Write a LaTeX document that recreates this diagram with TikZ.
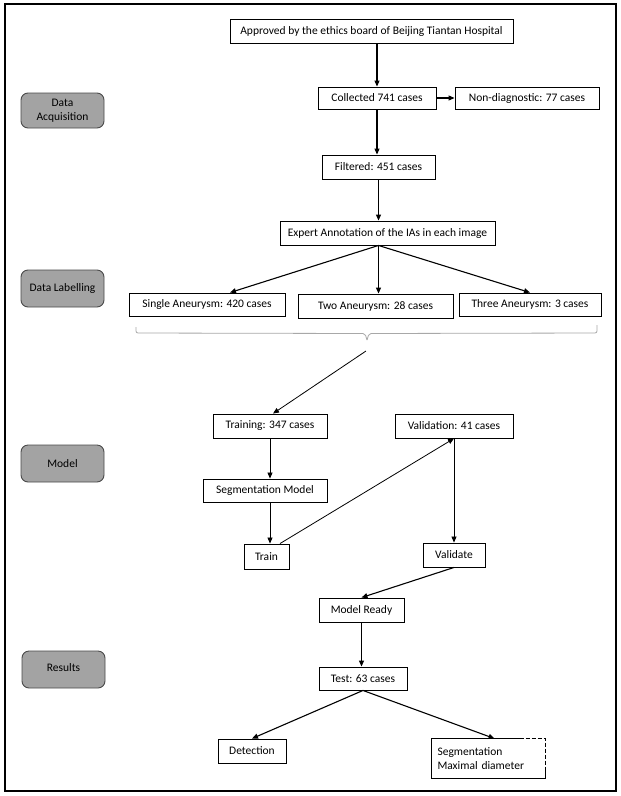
\documentclass[tikz,border=0pt]{standalone}
\usepackage{fontspec}
\setmainfont{Carlito}
\usetikzlibrary{arrows.meta,calc}
\definecolor{gfill}{HTML}{A3A3A3}
\definecolor{gedge}{HTML}{4A4A4A}
\definecolor{bracec}{HTML}{A8A8A8}
\begin{document}
\begin{tikzpicture}[x=1pt,y=-1pt,
  box/.style={draw=black,line width=0.9pt,fill=white,inner sep=0pt,
    font=\fontsize{11.5}{13.5}\selectfont},
  gbox/.style={draw=gedge,line width=0.9pt,fill=gfill,rounded corners=7pt,
    inner sep=0pt,minimum width=83pt,minimum height=37pt,align=center,
    font=\fontsize{11.5}{13.5}\selectfont},
  arr/.style={line width=1.1pt,-{Triangle[length=6pt,width=5pt]}},
  thinarr/.style={line width=0.8pt,-{Triangle[length=6pt,width=5pt]}}]
\useasboundingbox (0,0) rectangle (621,796);
\fill[white] (0,0) rectangle (621,796);
\draw[line width=1.1pt] (5,4) rectangle (616,791);

% side labels
\node[gbox,minimum height=35pt] (acq) at (62.5,110.5) {Data\\Acquisition};
\node[gbox] (lab) at (62.5,288.5) {Data Labelling};
\node[gbox] (mod) at (62.5,463.5) {Model};
\node[gbox] (res) at (63.5,669.5) {\raisebox{5pt}{Results}};

% flow boxes
\node[box,minimum width=283pt,minimum height=24pt] (appr) at (371.5,31) {Approved by the ethics board of Beijing Tiantan Hospital};
\node[box,minimum width=118pt,minimum height=22pt] (coll) at (377,98) {Collected 741 cases};
\node[box,minimum width=144pt,minimum height=22pt] (nond) at (527,98) {Non-diagnostic: 77 cases};
\node[box,minimum width=113pt,minimum height=24pt] (filt) at (378.5,167) {Filtered: 451 cases};
\node[box,minimum width=215pt,minimum height=24pt] (expt) at (387.5,233) {Expert Annotation of the IAs in each image};
\node[box,minimum width=156pt,minimum height=23pt] (sing) at (207,304.5) {Single Aneurysm: 420 cases};
\node[box,minimum width=155pt,minimum height=24pt] (two) at (375.5,306) {Two Aneurysm: 28 cases};
\node[box,minimum width=142pt,minimum height=23pt] (three) at (530,304.5) {Three Aneurysm: 3 cases};
\node[box,minimum width=114pt,minimum height=24pt] (trn) at (270,426) {Training: 347 cases};
\node[box,minimum width=118pt,minimum height=24pt] (val) at (454,426) {Validation: 41 cases};
\node[box,minimum width=124pt,minimum height=23pt] (seg) at (265,490.5) {Segmentation Model};
\node[box,minimum width=45pt,minimum height=25pt] (train) at (266.5,556.5) {Train};
\node[box,minimum width=62pt,minimum height=24pt] (valid) at (454,555) {Validate};
\node[box,minimum width=85pt,minimum height=24pt] (ready) at (361.5,610) {Model Ready};
\node[box,minimum width=88pt,minimum height=23pt] (test) at (363,678.5) {Test: 63 cases};
\node[box,minimum width=68pt,minimum height=24pt] (det) at (252,751) {Detection};
\node[box,draw=none,minimum width=113pt,minimum height=39pt,align=left,text width=102pt] (segmax) at (488.5,758.5) {Segmentation\\Maximal diameter};
\draw[line width=0.9pt] ($(segmax.north west)+(88,0)$) -- (segmax.north west) -- (segmax.south west) -- (segmax.south east) -- ($(segmax.north east)+(0,31)$);
\draw[line width=0.9pt,dash pattern=on 4pt off 2pt] ($(segmax.north west)+(88,0)$) -- (segmax.north east) -- ($(segmax.north east)+(0,31)$);

% connectors
\draw[arr] (coll |- appr.south) -- (coll.north);
\draw[arr] (coll.east) -- (nond.west);
\draw[arr] (coll.south) -- (coll.south |- filt.north);
\draw[arr] (filt.south) -- (filt.south |- expt.north);
\coordinate (eo) at (filt.south |- expt.south);
\draw[arr] (eo) -- ($(sing.north)+(23,0)$);
\draw[arr] (eo) -- (eo |- two.north);
\draw[arr] (eo) -- (three.north);

% brace
\coordinate (bl) at (136,327);
\coordinate (bm) at (367,340);
\coordinate (br) at (597,325);
\draw[bracec,line width=0.8pt,rounded corners=2pt] (bl) -- (136,333) -- (365,333.5) -- (bm);
\draw[bracec,line width=0.8pt,rounded corners=2pt] (bm) -- (369,333.5) -- (597,333) -- (br);
\coordinate (bs) at (366,351);
\draw[thinarr] (bs) -- ($(trn.north)+(3,0)$);

\draw[thinarr] (trn.south) -- (trn.south |- seg.north);
\draw[thinarr] (trn.south |- seg.south) -- (trn.south |- train.north);
\draw[thinarr] ($(train.north)+(13.5,0)$) -- (val.south);
\draw[thinarr] (val.south) -- (valid.north);
\draw[arr] (valid.south) -- (ready.north);
\draw[arr] (ready.south) -- (ready.south |- test.north);
\draw[arr] (test.south) -- (det.north);
\draw[arr] (test.south) -- ($(segmax.north)+(6,0)$);
\end{tikzpicture}
\end{document}
